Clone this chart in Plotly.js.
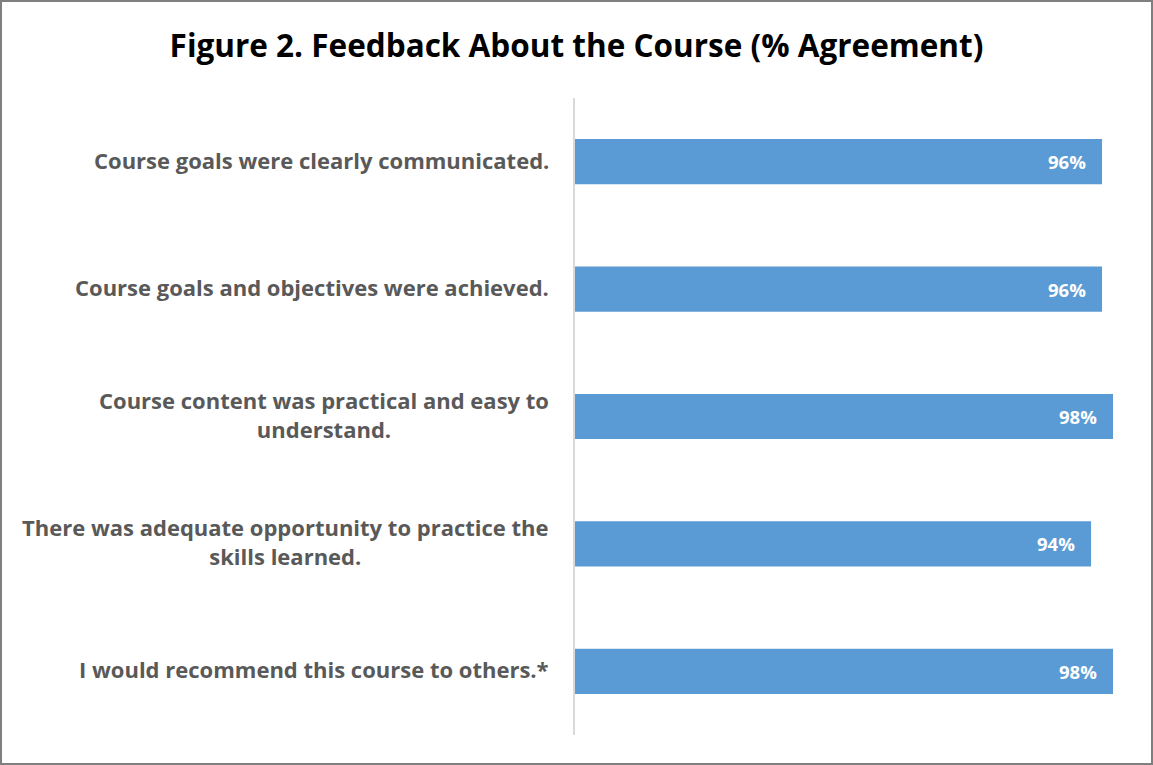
<!DOCTYPE html>
<html>
<head>
<meta charset="utf-8">
<script src="https://cdn.plot.ly/plotly-3.0.1.min.js"></script>
<style>
  html, body { margin: 0; padding: 0; background: #fff; }
  #chart { width: 1153px; height: 765px; box-sizing: border-box; border: 2px solid #7f7f7f; }
</style>
</head>
<body>
<div id="chart"></div>
<script>
const categories = [
  "Course goals were clearly communicated.",
  "Course goals and objectives were achieved.",
  "Course content was practical and easy to<br>understand.",
  "There was adequate opportunity to practice the<br>skills learned.",
  "I would recommend this course to others.*"
];
const values = [0.96, 0.96, 0.98, 0.94, 0.98];
const valueLabels = ["96%", "96%", "98%", "94%", "98%"];

const labelFont = "'Open Sans', Lato, sans-serif";

const trace = {
  type: 'bar',
  orientation: 'h',
  y: categories,
  x: values,
  marker: { color: '#5B9BD5' },
  hoverinfo: 'skip'
};

const annotations = [];
categories.forEach((c, i) => {
  annotations.push({
    xref: 'paper', yref: 'y', x: 0, y: c,
    xanchor: 'right', yanchor: 'middle', xshift: -24, yshift: 2,
    text: '<b>' + c + '</b>', showarrow: false, align: 'center',
    font: { family: labelFont, size: 22, color: '#595959' }
  });
  annotations.push({
    xref: 'x', yref: 'y', x: values[i], y: c,
    xanchor: 'right', yanchor: 'middle', xshift: -14,
    text: '<b>' + valueLabels[i] + '</b>', showarrow: false,
    font: { family: labelFont, size: 18.5, color: '#ffffff' }
  });
});

const layout = {
  width: 1149, height: 761,
  margin: { l: 573, r: 27, t: 96, b: 28 },
  paper_bgcolor: '#ffffff', plot_bgcolor: '#ffffff',
  title: {
    text: '<b>Figure 2. Feedback About the Course (% Agreement)</b>',
    x: 0.5, xanchor: 'center', y: 0.942, yanchor: 'middle',
    font: { family: labelFont, size: 31.5, color: '#000000' }
  },
  xaxis: {
    range: [0, 1], showgrid: false, zeroline: false, showticklabels: false,
    showline: false, ticks: '', fixedrange: true
  },
  yaxis: {
    autorange: 'reversed', showticklabels: false, ticks: '',
    showline: true, linecolor: '#D9D9D9', linewidth: 2, showgrid: false
  },
  bargap: 0.645,
  showlegend: false,
  annotations: annotations
};

Plotly.newPlot('chart', [trace], layout, { displayModeBar: false, staticPlot: true });
</script>
</body>
</html>
